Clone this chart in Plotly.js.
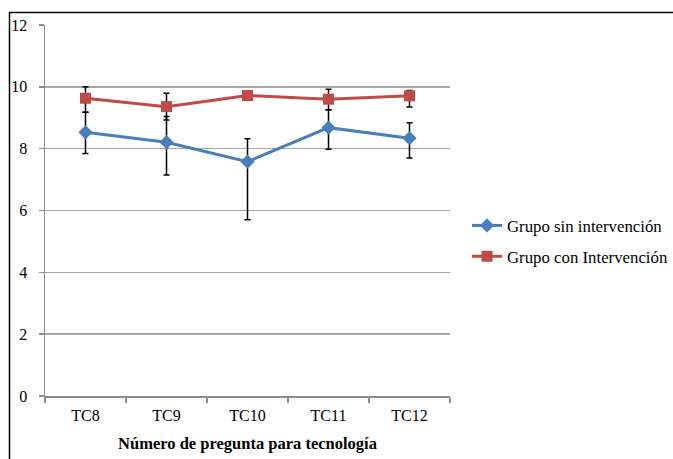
<!DOCTYPE html>
<html>
<head>
<meta charset="utf-8">
<script src="https://cdn.plot.ly/plotly-3.0.1.min.js"></script>
<style>html,body{margin:0;padding:0;background:#fff;}#chart{width:673px;height:459px;}</style>
</head>
<body>
<div id="chart"></div>
<script>
var categories = ["TC8", "TC9", "TC10", "TC11", "TC12"];
var sinIntervencion = [8.53, 8.21, 7.58, 8.68, 8.34];
var sinErrPlus = [0.65, 0.83, 0.74, 0.58, 0.50];
var sinErrMinus = [0.69, 1.06, 1.88, 0.70, 0.64];
var conIntervencion = [9.63, 9.36, 9.72, 9.60, 9.71];
var conErrPlus = [0.37, 0.43, 0, 0.32, 0.17];
var conErrMinus = [0.45, 0.43, 0, 0.34, 0.36];
var yTicks = [0, 2, 4, 6, 8, 10, 12];

var W = 673, H = 459, L = 45, R = 450, T = 25, B = 396;
function px(x){ return (x - L) / (R - L); }
function py(y){ return (B - y) / (B - T); }

var font = "'Liberation Serif', 'DejaVu Serif', serif";

var traces = [
  {
    x: categories, y: sinIntervencion, name: "Grupo sin intervención", legendgroup: "a",
    type: "scatter", mode: "lines+markers",
    line: {color: "#4A7EBB", width: 3},
    marker: {symbol: "diamond", size: 11, color: "#4A7EBB"},
    error_y: {type: "data", symmetric: false, array: sinErrPlus, arrayminus: sinErrMinus,
              color: "#000000", thickness: 1.5, width: 3}
  },
  {
    x: categories, y: conIntervencion, name: "Grupo con Intervención", legendgroup: "b",
    type: "scatter", mode: "lines+markers",
    line: {color: "#BE4B48", width: 3},
    marker: {symbol: "square", size: 11, color: "#BE4B48"},
    error_y: {type: "data", symmetric: false, array: conErrPlus, arrayminus: conErrMinus,
              color: "#000000", thickness: 1.5, width: 3}
  }
];

var layout = {
  width: W, height: H,
  margin: {l: L, r: W - R, t: T, b: H - B, pad: 0},
  paper_bgcolor: "#ffffff", plot_bgcolor: "#ffffff",
  font: {family: font, size: 16, color: "#000000"},
  showlegend: true,
  legend: {xref: "container", yref: "container", x: 467 / W, y: 1 - 241 / H,
           xanchor: "left", yanchor: "middle",
           font: {family: font, size: 16.8, color: "#000000"},
           bgcolor: "rgba(0,0,0,0)", tracegroupgap: 6, itemwidth: 30},
  xaxis: {
    type: "category", range: [-0.5, 4.5], automargin: false,
    showline: true, linecolor: "#8c8c8c", linewidth: 1.5,
    showgrid: false, zeroline: false,
    ticks: "outside", tickson: "boundaries", ticklen: 5, tickcolor: "#8c8c8c", tickwidth: 1.5,
    ticklabelstandoff: 4,
    tickfont: {family: font, size: 16, color: "#000000"},
    title: {text: "<b>Número de pregunta para tecnología</b>", font: {family: font, size: 16.5, color: "#000000"}, standoff: 14}
  },
  yaxis: {
    range: [0, 12], tickvals: yTicks, ticktext: yTicks.map(String), automargin: false,
    showline: true, linecolor: "#8c8c8c", linewidth: 1.5,
    showgrid: true, gridcolor: "#a6a6a6", gridwidth: 1.5, zeroline: false,
    ticks: "outside", ticklen: 5, tickcolor: "#8c8c8c", tickwidth: 1.5,
    ticklabelstandoff: 8,
    tickfont: {family: font, size: 16, color: "#000000"}
  },
  shapes: [
    {type: "line", xref: "paper", yref: "paper", x0: px(9), x1: px(673), y0: py(12.5), y1: py(12.5),
     line: {color: "#000000", width: 1.5}},
    {type: "line", xref: "paper", yref: "paper", x0: px(9.5), x1: px(9.5), y0: py(12), y1: py(460),
     line: {color: "#000000", width: 1.5}}
  ]
};

Plotly.newPlot("chart", traces, layout, {displayModeBar: false, staticPlot: true});
</script>
</body>
</html>
